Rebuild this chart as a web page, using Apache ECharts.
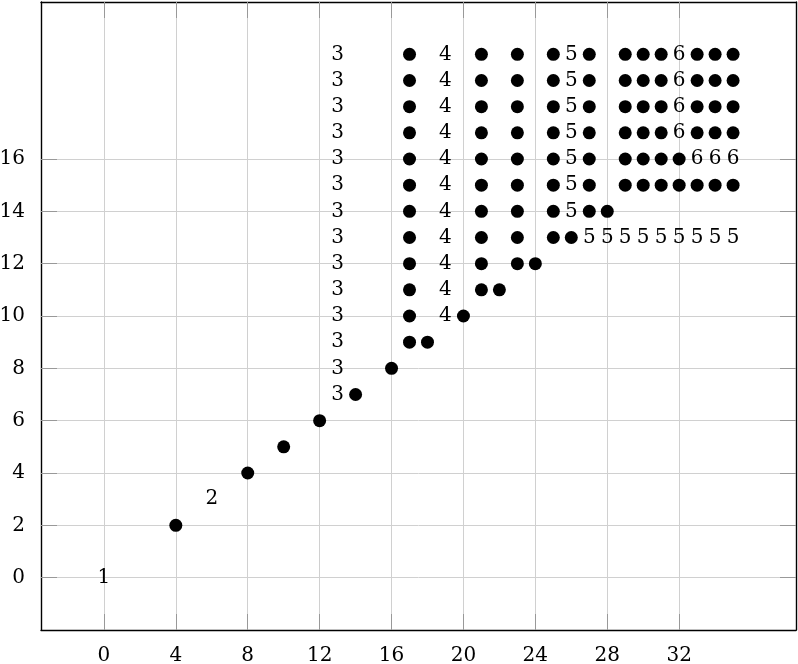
<!DOCTYPE html>
<html>
<head>
<meta charset="utf-8">
<script src="https://cdn.jsdelivr.net/npm/echarts@6/dist/echarts.min.js"></script>
<style>
  html, body { margin: 0; padding: 0; background: #fff; }
  #chart { width: 798px; height: 664px; }
</style>
</head>
<body>
<div id="chart"></div>
<script>
// axis ticks
const xTicks = [0, 4, 8, 12, 16, 20, 24, 28, 32];
const yTicks = [0, 2, 4, 6, 8, 10, 12, 14, 16];

// filled dots, one row per y value
const dotRowY = [20, 19, 18, 17, 16, 15, 14, 13, 12, 11, 10, 9, 8, 7, 6, 5, 4, 2];
const dotRowX = [
  [17, 21, 23, 25, 27, 29, 30, 31, 33, 34, 35],
  [17, 21, 23, 25, 27, 29, 30, 31, 33, 34, 35],
  [17, 21, 23, 25, 27, 29, 30, 31, 33, 34, 35],
  [17, 21, 23, 25, 27, 29, 30, 31, 33, 34, 35],
  [17, 21, 23, 25, 27, 29, 30, 31, 32],
  [17, 21, 23, 25, 27, 29, 30, 31, 32, 33, 34, 35],
  [17, 21, 23, 25, 27, 28],
  [17, 21, 23, 25, 26],
  [17, 21, 23, 24],
  [17, 21, 22],
  [17, 20],
  [17, 18],
  [16],
  [14],
  [12],
  [10],
  [8],
  [4]
];

// number labels placed at [x, y]
const labels1 = [[0, 0]];
const labels2 = [[6, 3]];
const labels3 = [[13, 20], [13, 19], [13, 18], [13, 17], [13, 16], [13, 15], [13, 14],
                 [13, 13], [13, 12], [13, 11], [13, 10], [13, 9], [13, 8], [13, 7]];
const labels4 = [[19, 20], [19, 19], [19, 18], [19, 17], [19, 16], [19, 15], [19, 14],
                 [19, 13], [19, 12], [19, 11], [19, 10]];
const labels5 = [[26, 20], [26, 19], [26, 18], [26, 17], [26, 16], [26, 15], [26, 14],
                 [27, 13], [28, 13], [29, 13], [30, 13], [31, 13], [32, 13], [33, 13], [34, 13], [35, 13]];
const labels6 = [[32, 20], [32, 19], [32, 18], [32, 17], [33, 16], [34, 16], [35, 16]];

const dots = [];
dotRowY.forEach((y, i) => dotRowX[i].forEach(x => dots.push([x, y])));

const textPoints = [];
[[labels1, '1'], [labels2, '2'], [labels3, '3'], [labels4, '4'], [labels5, '5'], [labels6, '6']]
  .forEach(([pts, t]) => pts.forEach(p => textPoints.push([p[0], p[1], t])));

const font = 'DejaVu Serif';
const fontSize = 20;
const xRange = { type: 'value', min: -3.5, max: 38.5 };
const yRange = { type: 'value', min: -2, max: 22 };
const tickStyle = { show: true, inside: true, length: 16, lineStyle: { color: '#999999', width: 1 } };
const frame = { show: true, onZero: false, lineStyle: { color: '#000', width: 1.4 } };
const gridLine = { show: true, lineStyle: { color: '#d0d0d0', width: 1 } };

// frame + ticks (drawn on top)
function tickAxis(range, pos, ticks, withLabels) {
  return Object.assign({}, range, {
    position: pos, z: 3,
    axisLine: frame,
    axisTick: Object.assign({ customValues: ticks }, tickStyle),
    axisLabel: withLabels
      ? { customValues: ticks, color: '#000', fontFamily: font, fontSize: fontSize, margin: 16 }
      : { show: false },
    splitLine: { show: false }
  });
}
// grid lines only (drawn underneath)
function gridAxis(range, pos, ticks) {
  return Object.assign({}, range, {
    position: pos, z: 0,
    axisLine: { show: false },
    axisTick: { show: false, customValues: ticks },
    axisLabel: { show: false, customValues: ticks },
    splitLine: gridLine
  });
}

const myChart = echarts.init(document.getElementById('chart'));
const option = {
  animation: false,
  grid: { left: 41, right: 2, top: 2, bottom: 34, containLabel: false, outerBoundsMode: 'none' },
  xAxis: [
    tickAxis(xRange, 'bottom', xTicks, true),
    tickAxis(xRange, 'top', xTicks, false),
    gridAxis(xRange, 'bottom', xTicks)
  ],
  yAxis: [
    tickAxis(yRange, 'left', yTicks, true),
    tickAxis(yRange, 'right', yTicks, false),
    gridAxis(yRange, 'left', yTicks)
  ],
  series: [
    {
      type: 'scatter',
      xAxisIndex: 0, yAxisIndex: 0,
      z: 4,
      symbol: 'circle',
      symbolSize: 13,
      itemStyle: { color: '#000', opacity: 1 },
      data: dots
    },
    {
      type: 'scatter',
      xAxisIndex: 0, yAxisIndex: 0,
      z: 4,
      symbol: 'circle',
      symbolSize: 1,
      itemStyle: { color: 'rgba(0,0,0,0)', opacity: 1 },
      label: {
        show: true,
        position: 'inside',
        color: '#000',
        opacity: 1,
        textBorderWidth: 0,
        fontFamily: font,
        fontSize: fontSize,
        formatter: p => p.value[2]
      },
      data: textPoints
    }
  ]
};
option && myChart.setOption(option);
</script>
</body>
</html>
